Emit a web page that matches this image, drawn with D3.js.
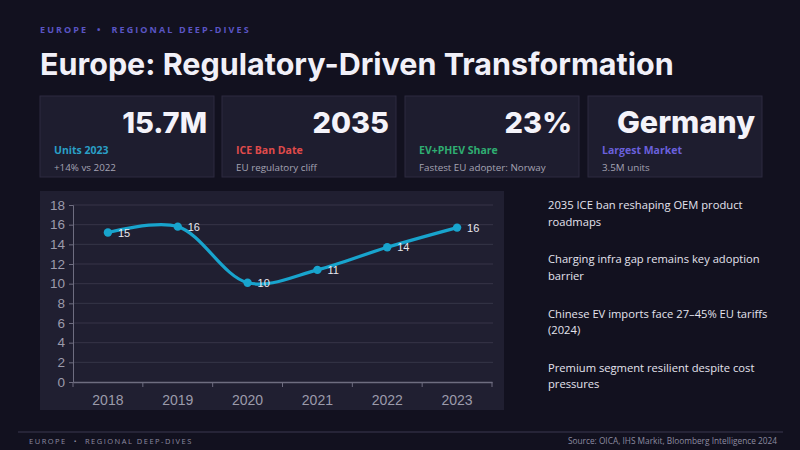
<!DOCTYPE html>
<html><head><meta charset="utf-8">
<script src="https://cdn.jsdelivr.net/npm/d3@7"></script>
<style>
html,body{margin:0;padding:0;background:#12111f;}
svg{display:block;}
</style></head>
<body>
<svg id="c" width="800" height="450"></svg>
<script>
const kicker = "EUROPE  •  REGIONAL DEEP-DIVES";
const title = "Europe: Regulatory-Driven Transformation";
const cardValues = ["15.7M", "2035", "23%", "Germany"];
const cardLabels = ["Units 2023", "ICE Ban Date", "EV+PHEV Share", "Largest Market"];
const cardSubs = ["+14% vs 2022", "EU regulatory cliff", "Fastest EU adopter: Norway", "3.5M units"];
const cardColors = ["#2a9fc6", "#e04b4b", "#2fae72", "#6a60dc"];
const years = ["2018", "2019", "2020", "2021", "2022", "2023"];
const units = [15.2, 15.8, 10.1, 11.4, 13.7, 15.7];
const yTicks = [0, 2, 4, 6, 8, 10, 12, 14, 16, 18];
const bullets = [
  ["2035 ICE ban reshaping OEM product", "roadmaps"],
  ["Charging infra gap remains key adoption", "barrier"],
  ["Chinese EV imports face 27\u201345% EU tariffs", "(2024)"],
  ["Premium segment resilient despite cost", "pressures"]
];
const footerLeft = "EUROPE  •  REGIONAL DEEP-DIVES";
const footerRight = "Source: OICA, IHS Markit, Bloomberg Intelligence 2024";

const svg = d3.select("#c");
svg.append("rect").attr("width", 800).attr("height", 450).attr("fill", "#12111f");

const headFont = "Inter, 'DejaVu Sans', sans-serif";
const bodyFont = "'Open Sans', 'Liberation Sans', sans-serif";

svg.append("text").attr("x", 40).attr("y", 33).text(kicker)
  .attr("fill", "#5a55c4").attr("font-family", bodyFont).attr("font-weight", 700)
  .attr("font-size", 9).attr("letter-spacing", 2.1).attr("xml:space", "preserve");

const t = svg.append("text").attr("x", 40).attr("y", 75).text(title)
  .attr("fill", "#f1f0f8").attr("font-family", headFont).attr("font-weight", 700)
  .attr("font-size", 30);
{ const w = t.node().getComputedTextLength(); t.attr("font-size", 30 * 634 / w); }

// cards
const cardX = [40, 222, 405, 588];
const cardW = 174;
cardValues.forEach((v, i) => {
  const g = svg.append("g").attr("transform", `translate(${cardX[i]},96)`);
  g.append("rect").attr("width", cardW).attr("height", 81)
    .attr("fill", "#1e1d2f").attr("stroke", "#2c2b40").attr("stroke-width", 1);
  g.append("text").attr("x", cardW - 7).attr("y", 37).attr("text-anchor", "end")
    .text(v).attr("fill", "#f4f3fa").attr("font-family", headFont).attr("font-weight", 800)
    .attr("font-size", i === 3 ? 30.5 : 29);
  g.append("text").attr("x", 14).attr("y", 58).text(cardLabels[i])
    .attr("fill", cardColors[i]).attr("font-family", bodyFont).attr("font-weight", 700)
    .attr("font-size", 10.5);
  g.append("text").attr("x", 14).attr("y", 74.5).text(cardSubs[i])
    .attr("fill", "#a4a3b3").attr("font-family", bodyFont).attr("font-size", 9.8);
});

// chart panel
svg.append("rect").attr("x", 40).attr("y", 191).attr("width", 464).attr("height", 219)
  .attr("fill", "#201f31");

const x = d3.scaleBand().domain(years).range([73, 492]);
const y = d3.scaleLinear().domain([0, 18]).range([382, 205]);

const grid = svg.append("g");
grid.selectAll("line").data(yTicks.filter(d => d > 0)).join("line")
  .attr("x1", 73).attr("x2", 493).attr("y1", d => y(d)).attr("y2", d => y(d))
  .attr("stroke", "#363548").attr("stroke-width", 1);

const axisColor = "#6e6d80";
const yAxis = svg.append("g").attr("transform", "translate(73,0)")
  .call(d3.axisLeft(y).tickValues(yTicks).tickSize(4).tickPadding(4));
yAxis.select(".domain").attr("stroke", axisColor);
yAxis.selectAll(".tick line").attr("stroke", axisColor);
yAxis.selectAll("text").attr("fill", "#9c9bab").attr("font-size", 13.5)
  .attr("font-family", "'Liberation Sans', Arial, sans-serif");

const xAxis = svg.append("g").attr("transform", "translate(0,382)")
  .call(d3.axisBottom(x).tickSize(0).tickPadding(13));
xAxis.select(".domain").attr("stroke", axisColor).attr("stroke-width", 1.5);
xAxis.selectAll("text").attr("fill", "#9c9bab").attr("font-size", 14)
  .attr("font-family", "'Liberation Sans', Arial, sans-serif");
const bandEdges = years.map(d => x(d)).concat([x.range()[1]]);
svg.append("g").selectAll("line").data(bandEdges).join("line")
  .attr("x1", d => d).attr("x2", d => d).attr("y1", 382).attr("y2", 387)
  .attr("stroke", axisColor);

const cx = d => x(d) + x.bandwidth() / 2;
const line = d3.line().x((d, i) => cx(years[i])).y(d => y(d)).curve(d3.curveCatmullRom.alpha(0.5));
svg.append("path").datum(units).attr("d", line).attr("fill", "none")
  .attr("stroke", "#18a4cd").attr("stroke-width", 3.2).attr("stroke-linecap", "round");
svg.append("g").selectAll("circle").data(units).join("circle")
  .attr("cx", (d, i) => cx(years[i])).attr("cy", d => y(d)).attr("r", 4.2)
  .attr("fill", "#18a4cd");
svg.append("g").selectAll("text").data(units).join("text")
  .attr("x", (d, i) => cx(years[i]) + 10).attr("y", d => y(d) + 4)
  .text(d => d3.format(".0f")(d))
  .attr("fill", "#e8e8f0").attr("font-size", 11)
  .attr("font-family", "'Liberation Sans', Arial, sans-serif");

// bullets
bullets.forEach((b, i) => {
  const tt = svg.append("text").attr("x", 548).attr("y", 209 + i * 54.3)
    .attr("fill", "#e4e3ee").attr("font-family", bodyFont).attr("font-size", 11.2);
  b.forEach((ln, j) => tt.append("tspan").attr("x", 548).attr("dy", j ? 16.5 : 0).text(ln));
});

// footer
svg.append("line").attr("x1", 18).attr("x2", 783).attr("y1", 432).attr("y2", 432)
  .attr("stroke", "#3a3950").attr("stroke-width", 1);
svg.append("text").attr("x", 29).attr("y", 444).text(footerLeft).attr("xml:space", "preserve")
  .attr("fill", "#8d8ca0").attr("font-family", bodyFont).attr("font-size", 7.5).attr("letter-spacing", 1.5);
svg.append("text").attr("x", 777).attr("y", 444).attr("text-anchor", "end").text(footerRight)
  .attr("fill", "#8d8ca0").attr("font-family", bodyFont).attr("font-size", 8.3);
</script>
</body></html>
